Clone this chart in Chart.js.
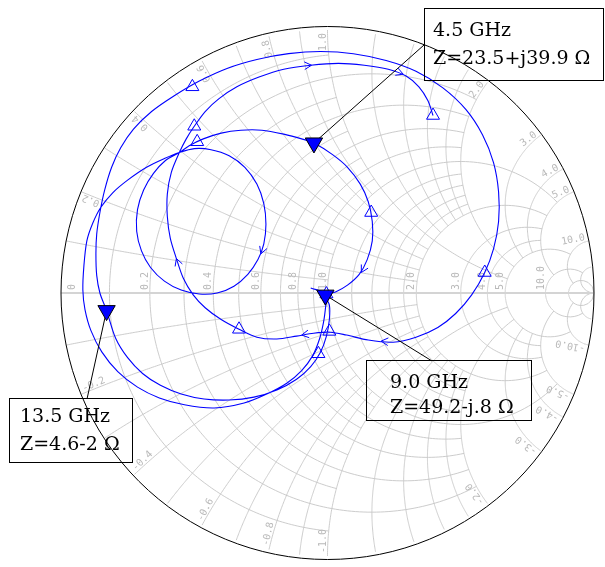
<!DOCTYPE html>
<html>
<head>
<meta charset="utf-8">
<script src="https://cdn.jsdelivr.net/npm/chart.js@4.4.1/dist/chart.umd.min.js"></script>
<style>
  html, body { margin: 0; padding: 0; background: #fff; }
</style>
</head>
<body>
<canvas id="smith" width="605" height="567"></canvas>
<script>
// reflection coefficient of the sweep, real / imaginary part, in sweep order
const traceRe = [
  -0.063, -0.004, -0.007, -0.015, -0.030, -0.056, -0.097, -0.153, -0.228, -0.313, -0.425, -0.537, -0.631, -0.713,
  -0.787, -0.847, -0.888, -0.910, -0.918, -0.914, -0.903, -0.881, -0.851, -0.806, -0.750, -0.679, -0.612, -0.556,
  -0.500, -0.437, -0.369, -0.310, -0.265, -0.239, -0.231, -0.239, -0.261, -0.299, -0.351, -0.414, -0.481, -0.549,
  -0.612, -0.664, -0.698, -0.716, -0.713, -0.690, -0.653, -0.608, -0.556,
  -0.519, -0.466, -0.399, -0.325, -0.246, -0.164, -0.097, -0.051, 0.019, 0.075, 0.123, 0.153, 0.168, 0.168,
  0.149, 0.119, 0.075, 0.030, -0.008,
  0.007, 0.007, -0.004, -0.026, -0.063, -0.116, -0.190, -0.276, -0.369, -0.463, -0.549, -0.627, -0.694, -0.750,
  -0.795, -0.829, -0.854, -0.866, -0.869, -0.866, -0.854, -0.836, -0.810, -0.776, -0.728, -0.660, -0.575,
  -0.481, -0.377, -0.265, -0.146, -0.026, 0.097, 0.220, 0.332, 0.433, 0.519, 0.582, 0.623, 0.642, 0.642, 0.623,
  0.590, 0.541, 0.481, 0.414, 0.332, 0.246, 0.153, 0.071, 0.011, -0.052, -0.116, -0.190, -0.265, -0.332, -0.399,
  -0.459, -0.504, -0.541, -0.567, -0.590, -0.601, -0.601, -0.586, -0.556,
  -0.530, -0.500, -0.459, -0.407, -0.340, -0.257, -0.164, -0.063, 0.041, 0.138, 0.228, 0.295, 0.343, 0.377, 0.396
]
const traceIm = [
  0.019, -0.004, -0.052, -0.112, -0.175, -0.239, -0.295, -0.343, -0.384, -0.418, -0.437, -0.425, -0.399, -0.358,
  -0.299, -0.224, -0.142, -0.063, 0.011, 0.104, 0.198, 0.265, 0.325, 0.381, 0.429, 0.478, 0.511, 0.534,
  0.549, 0.545, 0.522, 0.478, 0.414, 0.340, 0.261, 0.187, 0.127, 0.071, 0.026, 0.000, -0.004, 0.011,
  0.045, 0.097, 0.160, 0.235, 0.317, 0.392, 0.455, 0.504, 0.534,
  0.560, 0.586, 0.608, 0.619, 0.619, 0.604, 0.586, 0.570, 0.526, 0.478, 0.414, 0.347, 0.272, 0.198,
  0.127, 0.071, 0.030, 0.004, -0.008,
  -0.045, -0.101, -0.164, -0.224, -0.280, -0.328, -0.369, -0.396, -0.407, -0.403, -0.384, -0.351, -0.306, -0.246,
  -0.172, -0.067, 0.000, 0.067, 0.149, 0.224, 0.306, 0.392, 0.478, 0.552, 0.623, 0.690, 0.750,
  0.806, 0.854, 0.888, 0.910, 0.918, 0.910, 0.884, 0.843, 0.780, 0.698, 0.601, 0.496, 0.384, 0.272, 0.168,
  0.078, -0.007, -0.078, -0.131, -0.168, -0.187, -0.179, -0.160, -0.149, -0.153, -0.164, -0.175, -0.168, -0.138, -0.101,
  -0.056, -0.007, 0.056, 0.131, 0.209, 0.291, 0.377, 0.459, 0.534,
  0.586, 0.634, 0.690, 0.739, 0.784, 0.821, 0.851, 0.866, 0.873, 0.866, 0.851, 0.825, 0.784, 0.731, 0.675
]

// open sample markers on the sweep
const markRe = [-0.004, -0.507, -0.500, -0.489, 0.164, 0.590, 0.007, -0.034, -0.332, 0.396]
const markIm = [-0.004, 0.784, 0.634, 0.575, 0.306, 0.078, -0.146, -0.231, -0.138, 0.675]

// direction arrows on the sweep
const arrowRe = [-0.060, 0.284, -0.250, -0.567, 0.127, 0.201, -0.097]
const arrowIm = [0.866, 0.832, 0.149, 0.131, 0.078, -0.183, -0.160]

// labelled frequencies, impedance in ohm
const z0 = 50
const labelFreq = ['4.5 GHz', '9.0 GHz', '13.5 GHz']
const labelR = [23.5, 49.2, 4.6]
const labelX = [39.9, -0.8, -2]
const labelText = ['Z=23.5+j39.9 Ω', 'Z=49.2-j.8 Ω', 'Z=4.6-2 Ω']

// smith grid (normalised r and x), and how far each line runs
const gridTicks = [0.1, 0.2, 0.3, 0.4, 0.5, 0.6, 0.7, 0.8, 0.9, 1, 1.2, 1.4, 1.6, 1.8, 2, 3, 4, 5, 10, 20]
const gridReach = [1, 2, 1, 2, 1, 2, 1, 2, 1, 5, 2, 2, 2, 2, 5, 5, 5, 10, 20, Infinity]
const rLabels = [0, 0.2, 0.4, 0.6, 0.8, 1, 2, 3, 4, 5, 10]
const xLabels = [0.2, 0.4, 0.6, 0.8, 1, 2, 3, 4, 5, 10]

function gammaOf(r, xv) {
  const d = (r + 1) * (r + 1) + xv * xv
  return [(r * r - 1 + xv * xv) / d, 2 * xv / d]
}
const toPoints = (re, im) => re.map((u, i) => ({ x: u, y: im[i] }))
const labelPts = labelR.map((r, i) => {
  const [u, v] = gammaOf(r / z0, labelX[i] / z0)
  return { x: u, y: v }
})

// boxes for the labels
const boxes = [
  { x: 424.5, y: 8.5, w: 179, h: 72, tx: 433, ty: [36, 64], ax: 424, ay: 45 },
  { x: 366.5, y: 360.5, w: 165, h: 60, tx: 390, ty: [388, 413], ax: 432, ay: 361 },
  { x: 9.5, y: 398.5, w: 123, h: 64, tx: 20, ty: [422, 450], ax: 87, ay: 399 }
]

const smithGrid = {
  id: 'smithGrid',
  beforeDatasetsDraw(chart) {
    const { ctx, scales: { x, y } } = chart
    const P = (u, v) => [x.getPixelForValue(u), y.getPixelForValue(v)]
    const [cx, cy] = P(0, 0)
    const R = x.getPixelForValue(1) - cx
    ctx.save()
    ctx.beginPath(); ctx.arc(cx, cy, R, 0, Math.PI * 2); ctx.clip()
    ctx.strokeStyle = '#c6c6c6'
    ctx.lineWidth = 0.9
    gridTicks.forEach((t, k) => {
      const a = Math.atan(gridReach[k])
      ctx.beginPath()
      for (let i = 0; i <= 240; i++) {
        const [px, py] = P(...gammaOf(t, Math.tan(-a + 2 * a * i / 240)))
        i ? ctx.lineTo(px, py) : ctx.moveTo(px, py)
      }
      ctx.stroke()
      for (const s of [1, -1]) {
        ctx.beginPath()
        for (let i = 0; i <= 200; i++) {
          const [px, py] = P(...gammaOf(Math.tan(a * i / 200), s * t))
          i ? ctx.lineTo(px, py) : ctx.moveTo(px, py)
        }
        ctx.stroke()
      }
    })
    // real axis
    ctx.strokeStyle = '#d4d4d4'
    ctx.lineWidth = 2
    ctx.beginPath(); ctx.moveTo(...P(-1, 0)); ctx.lineTo(...P(1, 0)); ctx.stroke()

    ctx.fillStyle = '#b9b9b9'
    ctx.font = '10px "DejaVu Sans Mono"'
    ctx.textBaseline = 'alphabetic'
    rLabels.forEach(r => {
      const [px] = P((r - 1) / (r + 1), 0)
      ctx.save()
      ctx.translate(r === 0 ? px + 14 : px - 2, cy - 3)
      ctx.rotate(-Math.PI / 2)
      ctx.textAlign = 'left'
      ctx.fillText(r === 0 ? '0' : r.toFixed(1), 0, 0)
      ctx.restore()
    })
    xLabels.forEach(xv => {
      for (const s of [1, -1]) {
        const [u, v] = gammaOf(0, s * xv)
        const th = Math.atan2(v, u)
        const [bx, by] = P(u, v)
        const d = th > 0 ? th : th + Math.PI
        const ix = bx - 3 * Math.cos(th), iy = by + 3 * Math.sin(th)
        ctx.save()
        ctx.translate(ix, iy)
        ctx.rotate(-d)
        ctx.textAlign = th > 0 ? 'right' : 'left'
        ctx.fillText((s * xv).toFixed(1), 0, -1.5)
        ctx.restore()
      }
    })
    ctx.restore()

    ctx.save()
    ctx.strokeStyle = '#000'
    ctx.lineWidth = 1
    ctx.beginPath(); ctx.arc(cx, cy, R, 0, Math.PI * 2); ctx.stroke()
    ctx.restore()
  },
  beforeDatasetDraw(chart, args) {
    if (args.index !== 0) return
    const ctx = chart.ctx
    ctx.save()
    ctx.strokeStyle = '#000'
    ctx.lineWidth = 1
    args.meta.data.forEach((pt, i) => {
      ctx.beginPath(); ctx.moveTo(pt.x, pt.y); ctx.lineTo(boxes[i].ax, boxes[i].ay); ctx.stroke()
    })
    ctx.restore()
  },
  afterDatasetsDraw(chart) {
    const ctx = chart.ctx
    const line = chart.getDatasetMeta(3).data
    ctx.save()
    ctx.strokeStyle = '#0000ff'
    ctx.lineWidth = 1
    chart.getDatasetMeta(1).data.forEach(pt => {
      let best = Infinity, dx = 1, dy = 0
      for (let i = 0; i < line.length - 1; i++) {
        const a = line[i], b = line[i + 1]
        const ex = b.x - a.x, ey = b.y - a.y
        const L = ex * ex + ey * ey || 1
        const t = Math.max(0, Math.min(1, ((pt.x - a.x) * ex + (pt.y - a.y) * ey) / L))
        const qx = a.x + t * ex - pt.x, qy = a.y + t * ey - pt.y
        if (qx * qx + qy * qy < best) { best = qx * qx + qy * qy; dx = ex; dy = ey }
      }
      const n = Math.hypot(dx, dy) || 1
      dx /= n; dy /= n
      const len = 8, ang = 0.5
      ctx.beginPath()
      for (const s of [1, -1]) {
        const c = Math.cos(s * ang), sn = Math.sin(s * ang)
        const rx = dx * c - dy * sn, ry = dx * sn + dy * c
        ctx.moveTo(pt.x - len * rx, pt.y - len * ry)
        ctx.lineTo(pt.x, pt.y)
      }
      ctx.stroke()
    })
    ctx.restore()
  },
  afterDraw(chart) {
    const ctx = chart.ctx
    ctx.save()
    ctx.strokeStyle = '#000'
    ctx.lineWidth = 1
    ctx.fillStyle = '#000'
    ctx.font = '19px "DejaVu Serif"'
    ctx.textAlign = 'left'
    ctx.textBaseline = 'alphabetic'
    boxes.forEach((b, i) => {
      ctx.strokeRect(b.x, b.y, b.w, b.h)
      ctx.fillText(labelFreq[i], b.tx, b.ty[0])
      ctx.fillText(labelText[i], b.tx, b.ty[1])
    })
    ctx.restore()
  }
}

new Chart(document.getElementById('smith'), {
  type: 'scatter',
  data: {
    datasets: [
      {
        label: 'labelled', order: 0, data: labelPts,
        pointStyle: 'triangle', rotation: 180, pointRadius: 10,
        backgroundColor: '#0000ff', borderColor: '#000', borderWidth: 1
      },
      { label: 'arrows', order: 1, data: toPoints(arrowRe, arrowIm), pointRadius: 0 },
      {
        label: 'samples', order: 2, data: toPoints(markRe, markIm),
        pointStyle: 'triangle', pointRadius: 7.5,
        backgroundColor: 'rgba(0,0,0,0)', borderColor: '#0000ff', borderWidth: 1
      },
      {
        label: 'S11', order: 3, data: toPoints(traceRe, traceIm),
        showLine: true, tension: 0.3, pointRadius: 0,
        borderColor: '#0000ff', borderWidth: 1.1
      }
    ]
  },
  options: {
    responsive: false,
    animation: false,
    devicePixelRatio: 1,
    layout: { padding: { left: 61, right: 8, top: 30, bottom: 1 } },
    scales: {
      x: { type: 'linear', min: -1, max: 1, display: false },
      y: { type: 'linear', min: -1, max: 1, display: false }
    },
    plugins: { legend: { display: false }, tooltip: { enabled: false } }
  },
  plugins: [smithGrid]
})
</script>
</body>
</html>
